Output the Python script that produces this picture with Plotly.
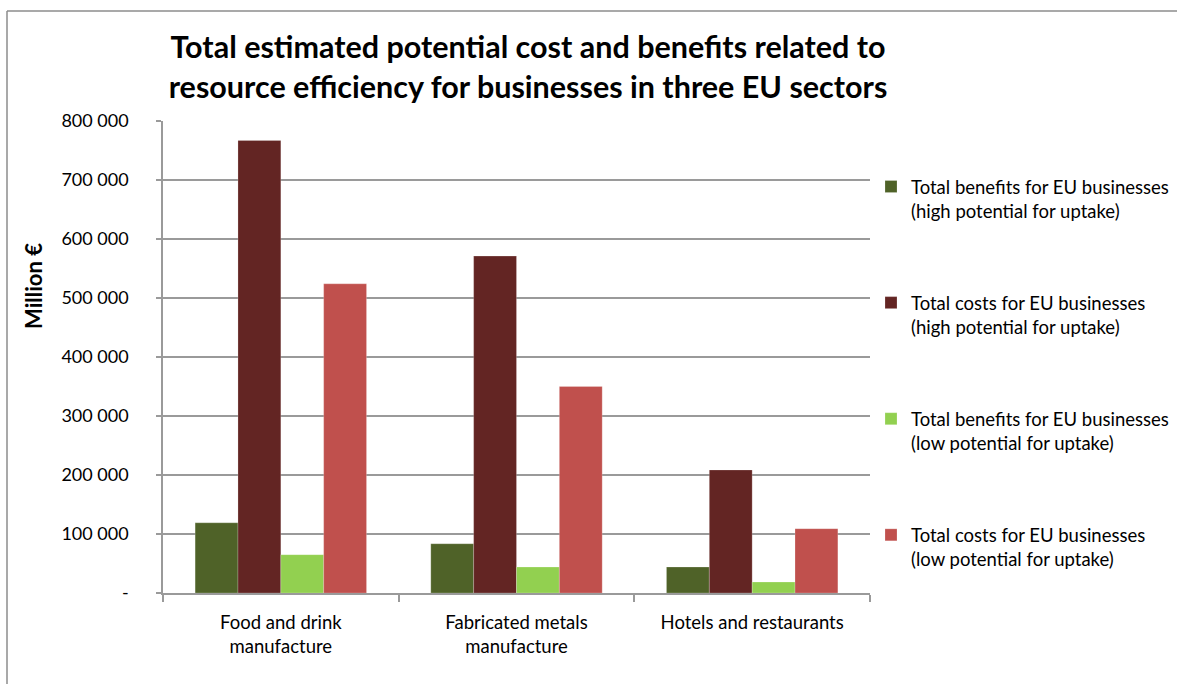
import plotly.graph_objects as go

# Sectors (x categories) and the four estimate series, in million €
sectors = ["Food and drink<br>manufacture", "Fabricated metals<br>manufacture", "Hotels and restaurants"]
series_names = [
    "Total benefits for EU businesses<br>(high potential for uptake)",
    "Total costs for EU businesses<br>(high potential for uptake)",
    "Total benefits for EU businesses<br>(low potential for uptake)",
    "Total costs for EU businesses<br>(low potential for uptake)",
]
benefits_high = [119000, 83500, 44000]
costs_high = [767000, 571000, 208500]
benefits_low = [65000, 44000, 18500]
costs_low = [524000, 350000, 109000]
series_values = [benefits_high, costs_high, benefits_low, costs_low]
series_colors = ["#4F6228", "#632523", "#92D050", "#C0504D"]

y_tick_vals = [0, 100000, 200000, 300000, 400000, 500000, 600000, 700000, 800000]
y_tick_text = ["-", "100 000", "200 000", "300 000", "400 000", "500 000", "600 000", "700 000", "800 000"]

W, H = 1177, 684
ML, MR, MT, MB = 163, 307, 121, 91
PW, PH = W - ML - MR, H - MT - MB

FONT = "Lato"
GRID = "#9a9a9a"

fig = go.Figure()
for i, (name, vals, col) in enumerate(zip(series_names, series_values, series_colors)):
    fig.add_trace(go.Bar(
        x=sectors, y=vals, name=name,
        marker=dict(color=col, line=dict(color="rgba(255,255,255,0.35)", width=0.6)),
        legendgroup=f"g{i}",
    ))


def px_x(px):
    return (px - ML) / PW


def px_y(py):
    return 1 - (py - MT) / PH


fig.update_layout(
    width=W, height=H,
    margin=dict(l=ML, r=MR, t=MT, b=MB, autoexpand=False),
    paper_bgcolor="white", plot_bgcolor="white",
    barmode="group", bargap=0.2727, bargroupgap=0,
    font=dict(family=FONT, color="#000000", size=18),
    title=dict(
        text="<b>Total estimated potential cost and benefits related to<br>resource efficiency for businesses in three EU sectors</b>",
        x=528 / W, xanchor="center", xref="container",
        y=1 - 58 / H, yanchor="top", yref="container",
        font=dict(family=FONT, size=30.5, color="#000000"),
    ),
    showlegend=True,
    legend=dict(
        x=px_x(871), y=px_y(168), xanchor="left", yanchor="top",
        traceorder="grouped", tracegroupgap=65, valign="top",
        font=dict(family=FONT, size=18.5, color="#000000"),
        bgcolor="rgba(0,0,0,0)",
    ),
    xaxis=dict(
        type="category", showline=True, linecolor=GRID, linewidth=1.5,
        ticks="outside", ticklen=7, tickcolor=GRID, tickwidth=1.5,
        tickson="boundaries", showgrid=False,
        tickfont=dict(family=FONT, size=18.5, color="#000000"),
        ticklabelstandoff=12,
    ),
    yaxis=dict(
        range=[0, 800000], tickvals=y_tick_vals, ticktext=y_tick_text,
        showline=True, linecolor=GRID, linewidth=1.5,
        ticks="outside", ticklen=5, tickcolor=GRID, tickwidth=1.5,
        showgrid=True, gridcolor=GRID, gridwidth=1.5, zeroline=False,
        tickfont=dict(family=FONT, size=18, color="#000000"),
        ticklabelstandoff=24,
    ),
    annotations=[dict(
        text="<b>Million €</b>", textangle=-90,
        x=px_x(33), y=px_y(286), xref="paper", yref="paper",
        xanchor="center", yanchor="middle",
        showarrow=False, font=dict(family=FONT, size=22, color="#000000"),
    )],
    shapes=[
        # outer chart frame (top and left edges)
        dict(type="line", xref="paper", yref="paper",
             x0=px_x(7), y0=px_y(11), x1=px_x(W + 5), y1=px_y(11),
             line=dict(color="#8c8c8c", width=1.5)),
        dict(type="line", xref="paper", yref="paper",
             x0=px_x(7), y0=px_y(11), x1=px_x(7), y1=px_y(H + 5),
             line=dict(color="#8c8c8c", width=1.5)),
    ],
)

fig.write_html("out.html")
